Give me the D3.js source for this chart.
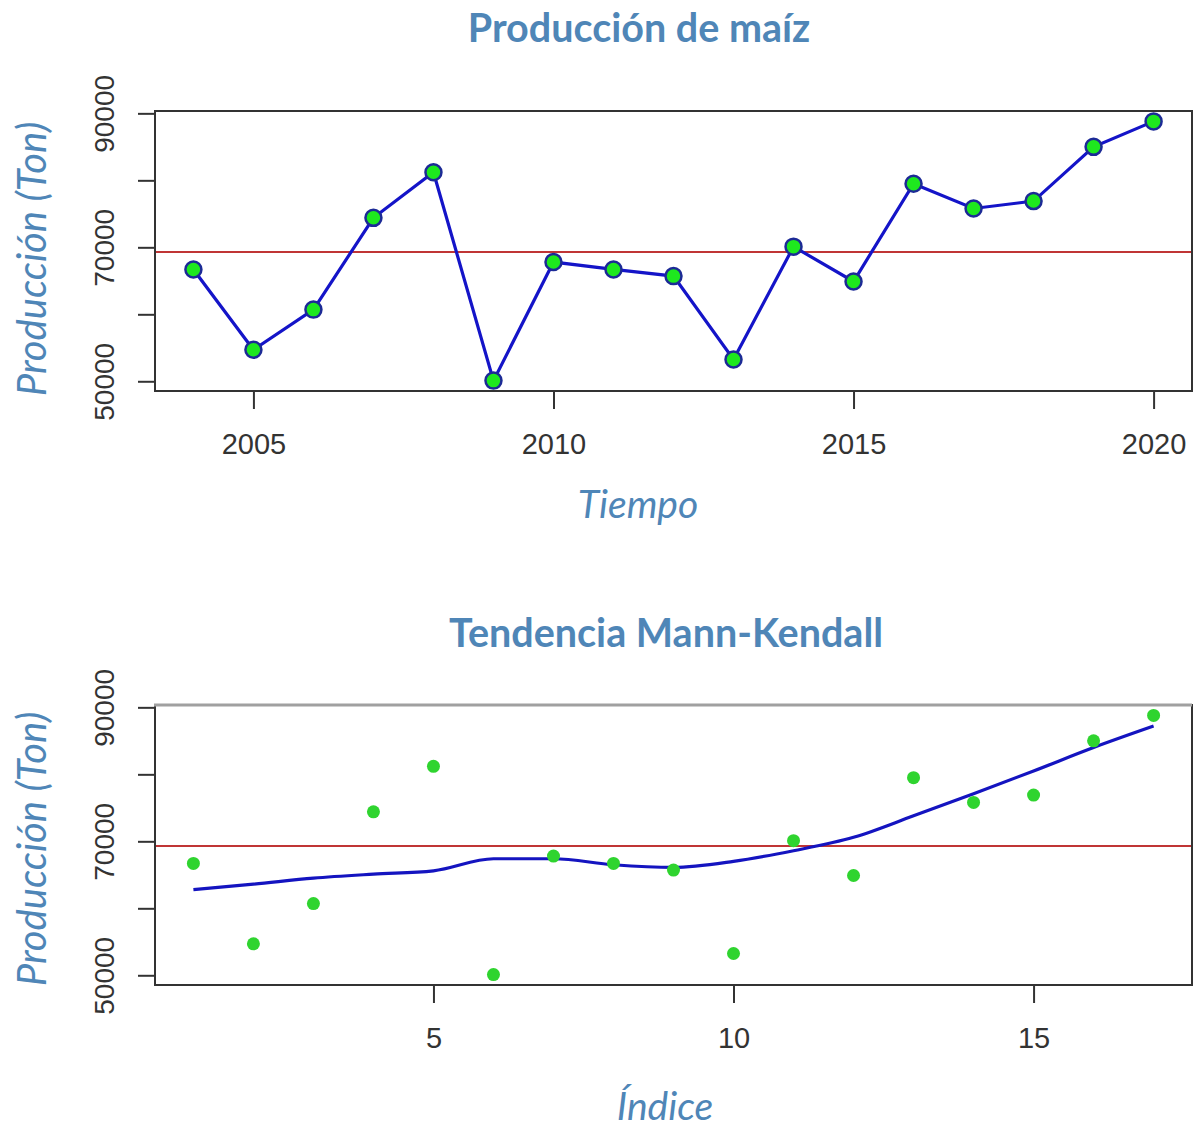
<!DOCTYPE html>
<html>
<head>
<meta charset="utf-8">
<script src="https://cdn.jsdelivr.net/npm/d3@7"></script>
<style>
  body { margin: 0; background: #fff; }
  svg { display: block; }
</style>
</head>
<body>
<div id="main"></div>
<script>
const layout = {
    width: 1194,
    height: 1127,
    left: 155,
    right: 1192,
    tickLen: 17
};

// data
const years = [2004, 2005, 2006, 2007, 2008, 2009, 2010, 2011, 2012, 2013, 2014, 2015, 2016, 2017, 2018, 2019, 2020];
const production = [66700, 54700, 60700, 74400, 81200, 50100, 67800, 66700, 65700, 53250, 70100, 64900, 79500, 75800, 76900, 85000, 88800];
const indices = [1, 2, 3, 4, 5, 6, 7, 8, 9, 10, 11, 12, 13, 14, 15, 16, 17];
const trend = [62800, 63600, 64500, 65100, 65600, 67400, 67400, 66500, 66100, 67000, 68600, 70600, 73800, 77100, 80500, 84000, 87200];
const meanProduction = 69300;

const yTicks = [50000, 60000, 70000, 80000, 90000];
const yLabelled = [50000, 70000, 90000];
const yearTicks = [2005, 2010, 2015, 2020];
const indexTicks = [5, 10, 15];

const titleColor = "#4f86b7";

const svg = d3.select("#main").append("svg")
    .attr("width", layout.width)
    .attr("height", layout.height);

// R-style padded domains
const yDomain = [48550, 90350];

function drawFrame(top, bottom, xScale, yScale, xTicks, topEdgeColor) {
    // y axis (ticks only, rotated labels)
    let yAxis = svg.append("g")
        .attr("transform", `translate(${layout.left},0)`)
        .call(d3.axisLeft(yScale).tickValues(yTicks).tickSize(layout.tickLen)
            .tickFormat(d => yLabelled.includes(d) ? String(d) : ""));
    yAxis.select(".domain").remove();
    yAxis.selectAll("line").attr("stroke", "#333").attr("stroke-width", 2);
    yAxis.selectAll("text")
        .attr("x", 0).attr("y", -41).attr("dy", 0)
        .attr("transform", "rotate(-90)")
        .attr("text-anchor", "middle")
        .attr("font-family", "Liberation Sans, Arial, sans-serif")
        .attr("font-size", 28)
        .attr("fill", "#333");

    // x axis
    let xAxis = svg.append("g")
        .attr("transform", `translate(0,${bottom})`)
        .call(d3.axisBottom(xScale).tickValues(xTicks).tickSize(18).tickPadding(24)
            .tickFormat(d3.format("d")));
    xAxis.select(".domain").remove();
    xAxis.selectAll("line").attr("stroke", "#333").attr("stroke-width", 2);
    xAxis.selectAll("text")
        .attr("font-family", "Liberation Sans, Arial, sans-serif")
        .attr("font-size", 29)
        .attr("fill", "#333");

    // box
    svg.append("rect")
        .attr("x", layout.left).attr("y", top)
        .attr("width", layout.right - layout.left).attr("height", bottom - top)
        .attr("fill", "none").attr("stroke", "#333").attr("stroke-width", 2);
    if (topEdgeColor) {
        svg.append("line")
            .attr("x1", layout.left - 1).attr("x2", layout.right)
            .attr("y1", top).attr("y2", top)
            .attr("stroke", topEdgeColor).attr("stroke-width", 3);
    }

    // mean line
    svg.append("line")
        .attr("x1", layout.left + 1).attr("x2", layout.right - 1)
        .attr("y1", yScale(meanProduction)).attr("y2", yScale(meanProduction))
        .attr("stroke", "#c03535").attr("stroke-width", 2);
}

function addTitles(title, titleX, titleY, xTitle, xTitleX, xTitleY, yTitleY) {
    svg.append("text")
        .attr("x", titleX).attr("y", titleY)
        .attr("text-anchor", "middle")
        .attr("font-family", "Lato, sans-serif")
        .attr("font-weight", "bold")
        .attr("font-size", 39.5)
        .attr("fill", titleColor)
        .text(title);
    svg.append("text")
        .attr("x", xTitleX).attr("y", xTitleY)
        .attr("text-anchor", "middle")
        .attr("font-family", "Lato, sans-serif")
        .attr("font-style", "italic")
        .attr("font-size", 39)
        .attr("fill", titleColor)
        .text(xTitle);
    svg.append("text")
        .attr("transform", `translate(46,${yTitleY}) rotate(-90)`)
        .attr("text-anchor", "middle")
        .attr("font-family", "Lato, sans-serif")
        .attr("font-style", "italic")
        .attr("font-size", 40)
        .attr("fill", titleColor)
        .text("Producción (Ton)");
}

// ---- top panel: production over time ----
const top1 = 111, bottom1 = 391;
let xTime = d3.scaleLinear().domain([2003.36, 2020.64]).range([layout.left, layout.right]);
let yTop = d3.scaleLinear().domain(yDomain).range([bottom1, top1]);

drawFrame(top1, bottom1, xTime, yTop, yearTicks, null);

let series = years.map((y, i) => ({ x: y, v: production[i] }));

svg.append("path")
    .datum(series)
    .attr("fill", "none")
    .attr("stroke", "#1414c8")
    .attr("stroke-width", 3.2)
    .attr("d", d3.line().x(d => xTime(d.x)).y(d => yTop(d.v)));

svg.selectAll(".pt")
    .data(series)
    .enter().append("circle")
    .attr("class", "pt")
    .attr("cx", d => xTime(d.x))
    .attr("cy", d => yTop(d.v))
    .attr("r", 8)
    .attr("fill", "#1ee81e")
    .attr("stroke", "#1c2a96")
    .attr("stroke-width", 2.5);

addTitles("Producción de maíz", 639, 42, "Tiempo", 638, 518, 259);

// ---- bottom panel: Mann-Kendall trend ----
const top2 = 705, bottom2 = 985;
let xIdx = d3.scaleLinear().domain([0.36, 17.64]).range([layout.left, layout.right]);
let yBot = d3.scaleLinear().domain(yDomain).range([bottom2, top2]);

drawFrame(top2, bottom2, xIdx, yBot, indexTicks, "#a0a0a0");

let trendSeries = indices.map((k, i) => ({ x: k, v: trend[i] }));

svg.append("path")
    .datum(trendSeries)
    .attr("fill", "none")
    .attr("stroke", "#1414c0")
    .attr("stroke-width", 3.2)
    .attr("d", d3.line().curve(d3.curveMonotoneX).x(d => xIdx(d.x)).y(d => yBot(d.v)));

svg.selectAll(".dot")
    .data(indices.map((k, i) => ({ x: k, v: production[i] })))
    .enter().append("circle")
    .attr("class", "dot")
    .attr("cx", d => xIdx(d.x))
    .attr("cy", d => yBot(d.v))
    .attr("r", 6.5)
    .attr("fill", "#2fd42f");

addTitles("Tendencia Mann-Kendall", 666, 647, "Índice", 665, 1120, 849);
</script>
</body>
</html>
